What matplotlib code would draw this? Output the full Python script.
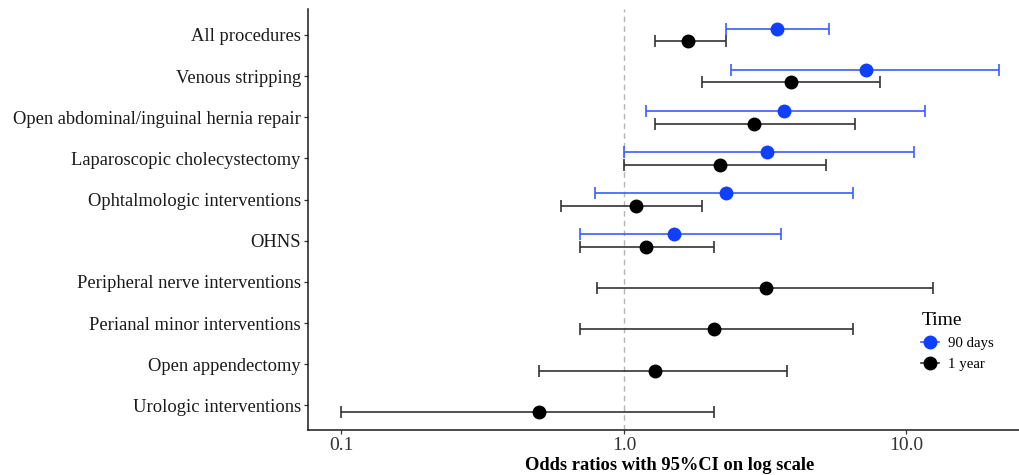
import numpy as np
import matplotlib
matplotlib.use("Agg")
import matplotlib.pyplot as plt
from matplotlib.lines import Line2D

categories = ["All procedures", "Venous stripping", "Open abdominal/inguinal hernia repair",
              "Laparoscopic cholecystectomy", "Ophtalmologic interventions", "OHNS",
              "Peripheral nerve interventions", "Perianal minor interventions",
              "Open appendectomy", "Urologic interventions"]

# 90 days (only first six procedures)
or_90 = [3.49, 7.19, 3.69, 3.20, 2.29, 1.50]
lo_90 = [2.29, 2.39, 1.20, 1.00, 0.79, 0.70]
hi_90 = [5.30, 21.2, 11.6, 10.6, 6.48, 3.59]

# 1 year
or_1y = [1.69, 3.89, 2.89, 2.19, 1.10, 1.20, 3.18, 2.08, 1.29, 0.50]
lo_1y = [1.29, 1.89, 1.29, 1.00, 0.60, 0.70, 0.80, 0.70, 0.50, 0.10]
hi_1y = [2.29, 8.08, 6.57, 5.18, 1.89, 2.09, 12.4, 6.49, 3.79, 2.08]

x_ticks = [0.1, 1.0, 10.0]
x_tick_labels = ["0.1", "1.0", "10.0"]

plt.rcParams['font.family'] = ['Liberation Serif', 'DejaVu Serif']

W, H = 1019, 475
fig = plt.figure(figsize=(W / 100, H / 100), dpi=100)
left_px, right_px, top_px, bot_px = 307.7, 1031, 9, 430
ax = fig.add_axes([left_px / W, 1 - bot_px / H, (right_px - left_px) / W, (bot_px - top_px) / H])

blue = '#1040ff'
blue_line = '#3a5cff'
black = '#000000'
black_line = '#333333'
off = 0.155

ax.axvline(1.0, color='#b5b5b5', linestyle=(0, (4, 3)), linewidth=1.0, zorder=0)

y90 = np.arange(len(or_90)) - off
y1 = np.arange(len(or_1y)) + off

ax.errorbar(or_90, y90,
            xerr=[np.array(or_90) - np.array(lo_90), np.array(hi_90) - np.array(or_90)],
            fmt='none', ecolor=blue_line, elinewidth=1.2, capsize=4, capthick=1.2, zorder=2)
ax.plot(or_90, y90, 'o', color=blue, markersize=9, zorder=3)

ax.errorbar(or_1y, y1,
            xerr=[np.array(or_1y) - np.array(lo_1y), np.array(hi_1y) - np.array(or_1y)],
            fmt='none', ecolor=black_line, elinewidth=1.2, capsize=4, capthick=1.2, zorder=2)
ax.plot(or_1y, y1, 'o', color=black, markersize=9, zorder=3)

ax.set_xscale('log')
ax.set_xlim(10 ** -1.1196, 10 ** 1.4407)
ax.set_ylim(len(categories) - 1 + 0.6, -0.63)
ax.set_yticks(np.arange(len(categories)))
ax.set_yticklabels(categories, fontsize=13.3, color='#1a1a1a')
ax.set_xticks(x_ticks)
ax.set_xticklabels(x_tick_labels, fontsize=14, color='#333333')
ax.xaxis.set_minor_locator(matplotlib.ticker.NullLocator())
ax.tick_params(axis='both', length=3, width=0.9, color='#333333', pad=2)

for s in ['top', 'right']:
    ax.spines[s].set_visible(False)
for s in ['left', 'bottom']:
    ax.spines[s].set_linewidth(1.1)
    ax.spines[s].set_color('#1a1a1a')

ax.set_xlabel("Odds ratios with 95%CI on log scale", fontsize=13.3, fontweight='bold', labelpad=2)

handles = [Line2D([0], [0], color=blue_line, marker='o', markersize=9, markerfacecolor=blue,
                  markeredgecolor=blue, linewidth=1.2),
           Line2D([0], [0], color=black_line, marker='o', markersize=9, markerfacecolor=black,
                  markeredgecolor=black, linewidth=1.2)]
leg = fig.legend(handles, ["90 days", "1 year"], title="Time", loc='upper left',
                 bbox_to_anchor=(908 / W, 1 - 299 / H), frameon=False, fontsize=10.7,
                 title_fontsize=14, handlelength=1.2, handletextpad=0.6, labelspacing=0.5)
leg._legend_box.align = "left"

fig.savefig("out.png", dpi=100)
